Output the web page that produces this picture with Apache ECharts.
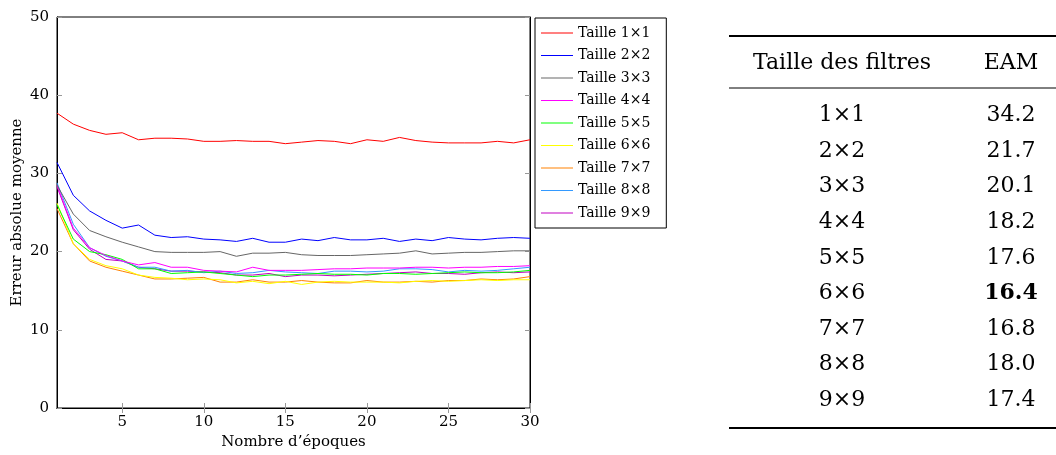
<!DOCTYPE html>
<html><head><meta charset="utf-8">
<script src="https://cdn.jsdelivr.net/npm/echarts@6/dist/echarts.min.js"></script>
<style>html,body{margin:0;padding:0;background:#fff}#c{width:1056px;height:455px}</style>
</head><body><div id="c"></div>
<script>
const epochs = Array.from({length:30},(_,i)=>String(i+1));
const seriesNames = ['Taille 1×1','Taille 2×2','Taille 3×3','Taille 4×4','Taille 5×5','Taille 6×6','Taille 7×7','Taille 8×8','Taille 9×9'];
const colors = ['#ff0000','#0000ff','#666666','#ff00ff','#00ff00','#ffff00','#ff8000','#3399ff','#c000c0'];
const s1 = [37.7,36.3,35.5,35.0,35.2,34.3,34.5,34.5,34.4,34.1,34.1,34.2,34.1,34.1,33.8,34.0,34.2,34.1,33.8,34.3,34.1,34.6,34.2,34.0,33.9,33.9,33.9,34.1,33.9,34.3];
const s2 = [31.4,27.2,25.2,24.0,23.0,23.4,22.1,21.8,21.9,21.6,21.5,21.3,21.7,21.2,21.2,21.6,21.4,21.8,21.5,21.5,21.7,21.3,21.6,21.4,21.8,21.6,21.5,21.7,21.8,21.7];
const s3 = [28.5,24.8,22.7,21.9,21.2,20.6,20.0,19.9,19.9,19.9,20.0,19.4,19.8,19.8,19.9,19.6,19.5,19.5,19.5,19.6,19.7,19.8,20.1,19.7,19.8,19.9,19.9,20.0,20.1,20.1];
const s4 = [28.5,23.0,20.5,19.5,18.8,18.3,18.6,18.0,18.0,17.6,17.5,17.4,18.0,17.6,17.6,17.6,17.7,17.8,17.8,17.9,17.9,17.9,18.0,18.0,17.9,18.0,18.0,18.1,18.1,18.2];
const s5 = [26.0,21.6,20.0,19.6,19.0,17.8,17.8,17.2,17.3,17.4,17.2,17.0,16.8,17.0,17.0,17.1,17.2,17.1,17.1,17.0,17.2,17.2,17.1,17.2,17.3,17.4,17.3,17.3,17.4,17.6];
const s6 = [26.2,21.0,19.0,18.2,17.8,17.0,16.7,16.6,16.4,16.5,16.4,16.0,16.2,15.9,16.2,15.8,16.1,16.2,16.1,16.1,16.1,16.0,16.2,16.3,16.2,16.3,16.4,16.3,16.4,16.4];
const s7 = [25.5,21.0,18.8,18.0,17.5,17.0,16.5,16.5,16.6,16.7,16.1,16.1,16.4,16.1,16.1,16.3,16.1,16.0,16.0,16.3,16.1,16.1,16.2,16.1,16.3,16.3,16.5,16.4,16.5,16.8];
const s8 = [28.8,23.5,20.5,19.4,18.8,18.0,18.0,17.5,17.6,17.3,17.5,17.2,17.3,17.6,17.4,17.3,17.2,17.5,17.5,17.4,17.5,17.8,17.8,17.7,17.4,17.6,17.5,17.6,17.8,18.0];
const s9 = [28.3,22.8,20.3,19.0,18.8,18.0,17.8,17.5,17.5,17.4,17.3,17.0,17.0,17.2,16.8,17.0,17.0,16.9,17.0,17.1,17.2,17.3,17.4,17.2,17.2,17.1,17.3,17.4,17.3,17.4];
const allSeries = [s1,s2,s3,s4,s5,s6,s7,s8,s9];
const yTicks = [0,10,20,30,40,50];
const tableHeader = ['Taille des filtres','EAM'];
const tableSizes = ['1×1','2×2','3×3','4×4','5×5','6×6','7×7','8×8','9×9'];
const tableEAM = ['34.2','21.7','20.1','18.2','17.6','16.4','16.8','18.0','17.4'];
const bestIndex = 5;

const FONT = 'DejaVu Serif';
const tickShow = (i)=> (i+1)%5===0;

const graphics = [];
const tL = 729, tR = 1056, c1 = 842, c2 = 1011;
const TF = '22px "'+FONT+'"';
graphics.push({type:'line',shape:{x1:tL,y1:36,x2:tR,y2:36},style:{stroke:'#000',lineWidth:2}});
graphics.push({type:'line',shape:{x1:tL,y1:88,x2:tR,y2:88},style:{stroke:'#000',lineWidth:1}});
graphics.push({type:'line',shape:{x1:tL,y1:428,x2:tR,y2:428},style:{stroke:'#000',lineWidth:2}});
graphics.push({type:'text',x:c1,y:63,style:{text:tableHeader[0],font:TF,fill:'#000',textAlign:'center',textVerticalAlign:'middle'}});
graphics.push({type:'text',x:c2,y:63,style:{text:tableHeader[1],font:TF,fill:'#000',textAlign:'center',textVerticalAlign:'middle'}});
tableSizes.forEach((s,i)=>{
  const y = 115.5 + i*35.6;
  graphics.push({type:'text',x:c1,y:y,style:{text:s,font:TF,fill:'#000',textAlign:'center',textVerticalAlign:'middle'}});
  graphics.push({type:'text',x:c2,y:y,style:{text:tableEAM[i],font:(i===bestIndex?'bold ':'')+TF,fill:'#000',textAlign:'center',textVerticalAlign:'middle'}});
});

const chart = echarts.init(document.getElementById('c'));
chart.setOption({
  animation:false,
  backgroundColor:'#fff',
  textStyle:{fontFamily:FONT},
  grid:{left:57,right:526,top:17,bottom:45,show:true,borderColor:'#000',borderWidth:1,backgroundColor:'transparent'},
  legend:{
    orient:'vertical',left:535,top:18,
    data:seriesNames,
    borderColor:'#000',borderWidth:1,padding:[8,16,8,6],
    itemWidth:32,itemHeight:14,itemGap:8.5,
    textStyle:{fontFamily:FONT,fontSize:14,color:'#000'},
    icon:'path://M0,10 L32,10 L32,11 L0,11 Z'
  },
  xAxis:[{
    type:'category',data:epochs,boundaryGap:false,
    name:'Nombre d’époques',nameLocation:'middle',nameGap:27,
    nameTextStyle:{fontFamily:FONT,fontSize:15,color:'#000'},
    axisLine:{lineStyle:{color:'#000'}},
    axisTick:{inside:true,length:5,interval:(i)=>tickShow(i),lineStyle:{color:'#999'}},
    axisLabel:{interval:(i)=>tickShow(i),fontFamily:FONT,fontSize:15,color:'#000',margin:7},
    splitLine:{show:false}
  },{
    type:'category',data:epochs,boundaryGap:false,position:'top',
    axisLine:{lineStyle:{color:'#000'}},
    axisTick:{inside:true,length:5,interval:(i)=>tickShow(i),lineStyle:{color:'#999'}},
    axisLabel:{show:false},splitLine:{show:false}
  }],
  yAxis:[{
    type:'value',min:0,max:50,interval:10,
    name:'Erreur absolue moyenne',nameLocation:'middle',nameGap:32,
    nameTextStyle:{fontFamily:FONT,fontSize:15,color:'#000'},
    axisLine:{show:true,lineStyle:{color:'#000'}},
    axisTick:{show:true,inside:true,length:5,lineStyle:{color:'#999'}},
    axisLabel:{fontFamily:FONT,fontSize:15,color:'#000',margin:8,formatter:(v)=>yTicks.includes(v)?String(v):''},
    splitLine:{show:false}
  },{
    type:'value',min:0,max:50,interval:10,position:'right',
    axisLine:{show:true,lineStyle:{color:'#000'}},
    axisTick:{show:true,inside:true,length:5,lineStyle:{color:'#999'}},
    axisLabel:{show:false},splitLine:{show:false}
  }],
  series: allSeries.map((d,i)=>({
    name:seriesNames[i],type:'line',data:d,xAxisIndex:0,yAxisIndex:0,
    symbol:'none',lineStyle:{width:1,color:colors[i]},itemStyle:{color:colors[i]},z:10-i
  })),
  graphic:graphics
});
</script></body></html>
